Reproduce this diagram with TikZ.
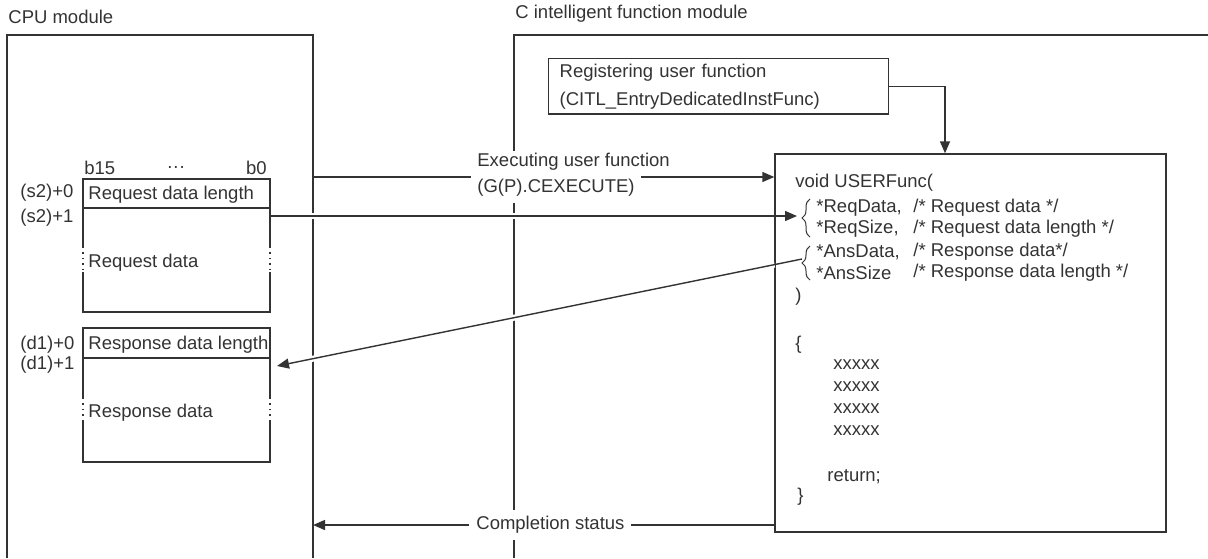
\documentclass[tikz,border=0pt]{standalone}
\usepackage{fontspec}
\setmainfont{Liberation Sans}
\usetikzlibrary{arrows.meta,positioning,calc,decorations.pathreplacing}
\definecolor{ink}{HTML}{333333}
\tikzset{
  box/.style={draw=ink,line width=0.7pt},
  arr/.style={draw=ink,line width=0.7pt,-{Triangle[length=6pt,width=5pt]}},
  gap/.style={preaction={draw=white,line width=3pt,-,shorten <=14pt,shorten >=14pt}},
  lbl/.style={fill=white,anchor=west,text=ink},
  code/.style={anchor=west,inner sep=0pt,text=ink},
  brc/.style={draw=ink,line width=0.5pt,decorate,decoration={brace,amplitude=4pt}},
}

\begin{document}
\begin{tikzpicture}[x=0.5pt,y=-0.5pt,font=\fontsize{9.25pt}{11pt}\selectfont]
  \useasboundingbox (0,0) rectangle (1208,558);
  % the two modules
  \node[code] (cpu) at (8,17) {CPU module};
  \node[code] (cim) at (515,14) {C intelligent function module};
  \draw[box] (7,558) |- (313,35) -- (313,558);
  \draw[box] (514,558) |- (1208,35);

  % request data area (s2)
  \draw[box] (83,179) rectangle (270,208);
  \draw[box] (83,247) -- (83,208) (270,208) -- (270,247);
  \draw[box] (83,272) |- (270,312) -- (270,272);
  \draw[box,dotted] (83,247) -- (83,272) (270,247) -- (270,272);
  \node[code] (b15) at (84,168) {b15};
  \node[code,anchor=center] (dots) at (176,169) {···};
  \node[code,anchor=east] (b0) at (267,168) {b0};
  \node[code] (s20) at (20,193) {(s2)+0};
  \node[code] (s21) at (20,218) {(s2)+1};
  \node[code] (reqlen) at (88,195) {Request data length};
  \node[code] (reqdat) at (88,263) {Request data};

  % response data area (d1)
  \draw[box] (83,328) rectangle (270,358);
  \draw[box] (83,398) -- (83,358) (270,358) -- (270,398);
  \draw[box] (83,420) |- (270,462) -- (270,420);
  \draw[box,dotted] (83,398) -- (83,420) (270,398) -- (270,420);
  \node[code] (d10) at (20,345) {(d1)+0};
  \node[code] (d11) at (20,365) {(d1)+1};
  \node[code] (anslen) at (88,345) {Response data length};
  \node[code] (ansdat) at (88,413) {Response data};

  % user function
  \node[box,text=ink,align=left,text width=159pt,inner xsep=5.5pt,inner ysep=2.5pt,
    anchor=north west,font=\fontsize{9.25pt}{14pt}\selectfont] (reg) at (548,58)
    {Registering user function\\(CITL\_EntryDedicatedInstFunc)};
  \node[box,minimum width=195.5pt,minimum height=189pt,inner sep=0pt] (func) at (970.5,343) {};
  \node[code] (usr) at (795,183) {void USERFunc(};
  \node[code] (p1) at (816,208) {*ReqData,};
  \node[code] (p2) at (816,229) {*ReqSize,};
  \node[code] (p3) at (816,252) {*AnsData,};
  \node[code] (p4) at (816,273) {*AnsSize};
  \node[code] (c1) at (913,208) {/* Request data */};
  \node[code] (c2) at (913,229) {/* Request data length */};
  \node[code] (c3) at (913,252) {/* Response data*/};
  \node[code] (c4) at (913,273) {/* Response data length */};
  \draw[brc] (810,237) -- (810,199);
  \draw[brc] (810,280) -- (810,246);
  \node[code] (close) at (795,297) {)};
  \node[code] (open) at (795,345) {\{};
  \node[code] (x1) at (833,365) {xxxxx};
  \node[code] (x2) at (833,387) {xxxxx};
  \node[code] (x3) at (833,409) {xxxxx};
  \node[code] (x4) at (833,431) {xxxxx};
  \node[code] (ret) at (827,477) {return;};
  \node[code] (end) at (797,497) {\}};

  % connectors
  \coordinate (cpuexe) at (313,177);
  \coordinate (reqout) at (270,216);
  \coordinate (reqtip) at (797,216);
  \coordinate (anstip) at (802,259);
  \coordinate (ansin) at (277,366);
  \coordinate (done) at (313,525);
  \draw[arr] (reg.east) -| ([xshift=-12.75pt]func.north);
  \draw[arr] (cpuexe) -- (cpuexe -| func.west);
  \draw[arr,gap] (reqout) -- (reqtip);
  \draw[arr,gap] (anstip) -- (ansin);
  \draw[arr] (func.west |- done) -- (done);
  \node[lbl,inner xsep=1pt,inner ysep=1pt] (exe1) at (475,162) {Executing user function};
  \node[lbl,inner sep=3pt] (exe2) at (471,188) {(G(P).CEXECUTE)};
  \node[lbl,inner xsep=3.5pt,inner ysep=3pt] (stat) at (469,525) {Completion status};
\end{tikzpicture}
\end{document}
